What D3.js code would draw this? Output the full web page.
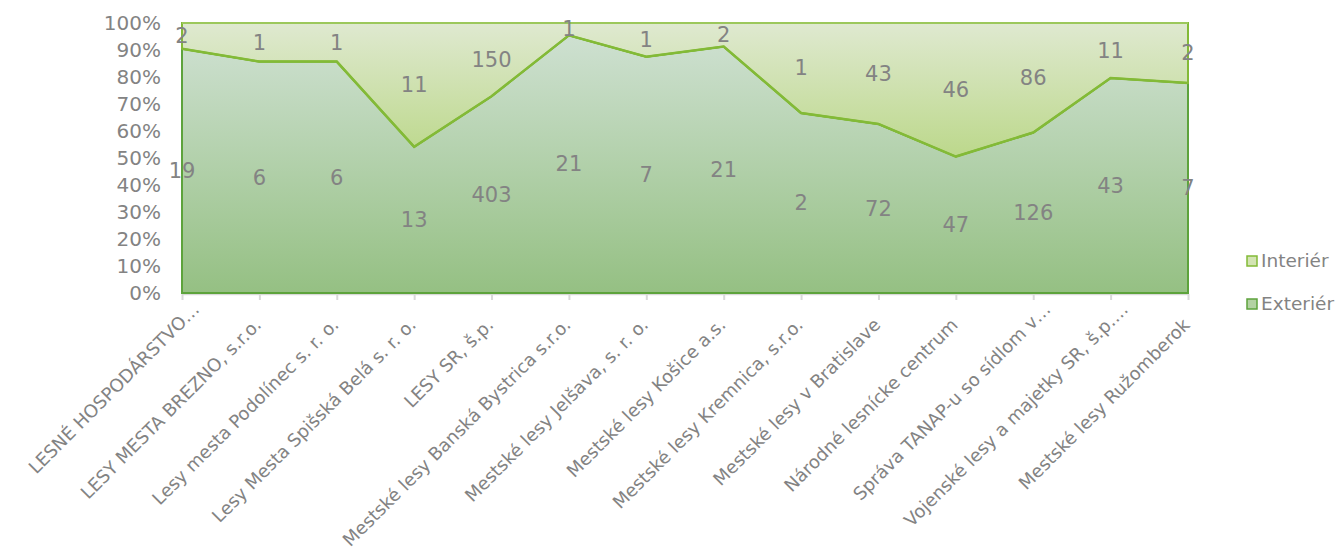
<!DOCTYPE html>
<html><head><meta charset="utf-8">
<script src="https://cdn.jsdelivr.net/npm/d3@7"></script>
<style>
html,body{margin:0;padding:0;background:#fff;}
svg text{font-family:"DejaVu Sans",sans-serif;fill:#838383;}
</style></head>
<body><svg id="chart" width="1341" height="551"></svg>
<script>
const categories = [
  "LESNÉ HOSPODÁRSTVO…",
  "LESY MESTA BREZNO, s.r.o.",
  "Lesy mesta Podolínec s. r. o.",
  "Lesy Mesta Spišská Belá s. r. o.",
  "LESY SR, š.p.",
  "Mestské lesy Banská Bystrica s.r.o.",
  "Mestské lesy Jelšava, s. r. o.",
  "Mestské lesy Košice a.s.",
  "Mestské lesy Kremnica, s.r.o.",
  "Mestské lesy v Bratislave",
  "Národné lesnícke centrum",
  "Správa TANAP-u so sídlom v…",
  "Vojenské lesy a majetky SR, š.p.…",
  "Mestské lesy Ružomberok"
];
const exterier = [19, 6, 6, 13, 403, 21, 7, 21, 2, 72, 47, 126, 43, 7];
const interier = [2, 1, 1, 11, 150, 1, 1, 2, 1, 43, 46, 86, 11, 2];
const seriesNames = ["Exteriér", "Interiér"];
const yTicks = [0, 0.1, 0.2, 0.3, 0.4, 0.5, 0.6, 0.7, 0.8, 0.9, 1];

const svg = d3.select("#chart");
const x = d3.scalePoint().domain(categories).range([182, 1188]);
const y = d3.scaleLinear().domain([0, 1]).range([293, 23]);

const table = categories.map((c, i) => ({cat: c, "Exteriér": exterier[i], "Interiér": interier[i]}));
const stacked = d3.stack().keys(seriesNames).offset(d3.stackOffsetExpand)(table);

const defs = svg.append("defs");
const gExt = defs.append("linearGradient").attr("id", "gExt").attr("gradientUnits", "userSpaceOnUse")
  .attr("x1", 0).attr("y1", y(1)).attr("x2", 0).attr("y2", y(0));
gExt.append("stop").attr("offset", 0).attr("stop-color", "#d1e2d5");
gExt.append("stop").attr("offset", 1).attr("stop-color", "#95c083");
const lowest = d3.min(stacked[0], d => d[1]);
const gInt = defs.append("linearGradient").attr("id", "gInt").attr("gradientUnits", "userSpaceOnUse")
  .attr("x1", 0).attr("y1", y(1)).attr("x2", 0).attr("y2", y(lowest));
gInt.append("stop").attr("offset", 0).attr("stop-color", "#dfe9d0");
gInt.append("stop").attr("offset", 1).attr("stop-color", "#bcd88b");

const fills = {"Exteriér": "url(#gExt)", "Interiér": "url(#gInt)"};
const strokes = {"Exteriér": "#5da33c", "Interiér": "#83ba37"};
const legendFill = {"Exteriér": "#b3d2a3", "Interiér": "#d3e4b3"};

// axis line and ticks
const xAxis = d3.axisBottom(x).tickSize(6).tickFormat("");
const gx = svg.append("g").attr("transform", `translate(0,${y(0) + 1})`).call(xAxis);
gx.select(".domain").attr("stroke", "#d9d9d9").attr("stroke-width", 2.5).attr("d", `M${x.range()[0]},0H${x.range()[1]}`);
gx.selectAll(".tick line").attr("stroke", "#d9d9d9").attr("stroke-width", 2);

const area = d3.area().x(d => x(d.data.cat)).y0(d => y(d[0])).y1(d => y(d[1]));
svg.selectAll(".area").data(stacked).join("path")
  .attr("d", area).attr("fill", s => fills[s.key])
  .attr("stroke", s => strokes[s.key]).attr("stroke-width", 2);
const line = d3.line().x(d => x(d.data.cat)).y(d => y(d[1]));
svg.append("path").attr("d", line(stacked[0])).attr("fill", "none")
  .attr("stroke", strokes["Interiér"]).attr("stroke-width", 2.5);
svg.append("path").attr("d", line(stacked[1])).attr("fill", "none")
  .attr("stroke", "#9cc85c").attr("stroke-width", 2);

// y axis labels
svg.append("g").selectAll("text").data(yTicks).join("text")
  .attr("x", 161).attr("y", d => y(d)).attr("dy", "0.35em")
  .attr("text-anchor", "end").style("font-size", "20px")
  .text(d => d3.format(".0%")(d));

// data labels
stacked.forEach(s => {
  svg.append("g").selectAll("text").data(s).join("text")
    .attr("x", d => x(d.data.cat)).attr("y", d => (y(d[0]) + y(d[1])) / 2).attr("dy", "0.35em")
    .attr("text-anchor", "middle").style("font-size", "21px")
    .text(d => d.data[s.key]);
});

// category labels
svg.append("g").selectAll("text").data(categories).join("text")
  .attr("transform", d => `translate(${x(d) + 3},${326}) rotate(-45)`)
  .attr("dx", d => d.endsWith("…") ? 22 : 0)
  .attr("text-anchor", "end").style("font-size", "18px")
  .text(d => d);

// legend
const leg = svg.append("g");
["Interiér", "Exteriér"].forEach((k, i) => {
  const ly = 261 + i * 43;
  leg.append("rect").attr("x", 1247).attr("y", ly - 5).attr("width", 10).attr("height", 10)
    .attr("fill", legendFill[k]).attr("stroke", strokes[k]).attr("stroke-width", 1.5);
  leg.append("text").attr("x", 1261).attr("y", ly).attr("dy", "0.35em")
    .style("font-size", "18.5px").text(k);
});
</script></body></html>
